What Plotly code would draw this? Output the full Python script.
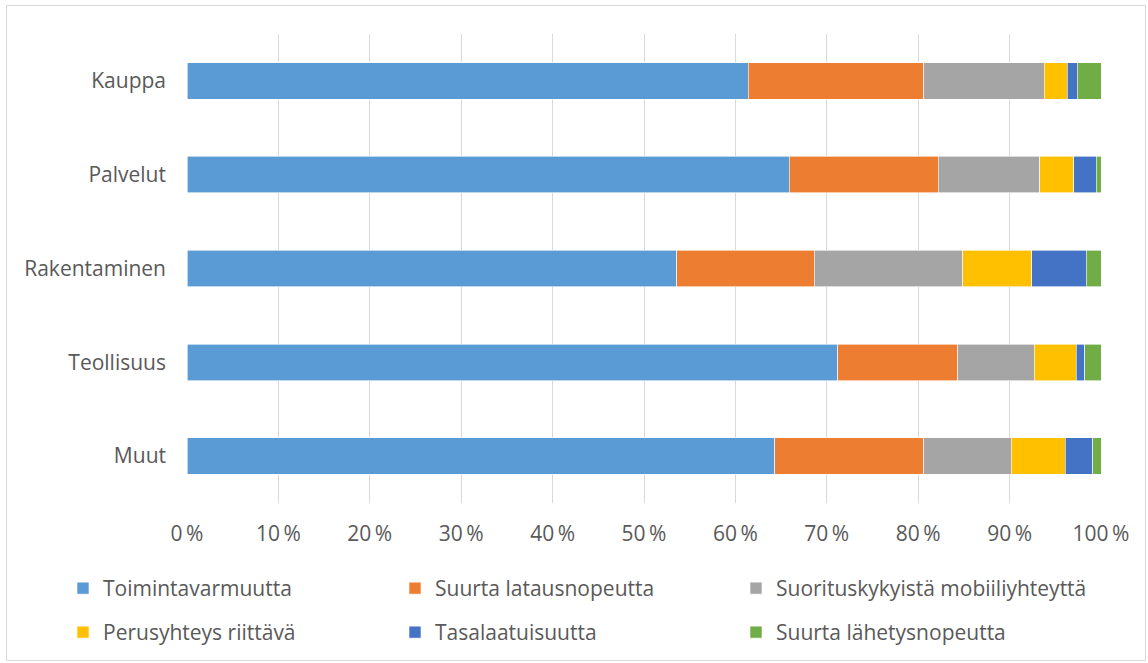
import plotly.graph_objects as go

# Sectors, top to bottom
categories = ["Kauppa", "Palvelut", "Rakentaminen", "Teollisuus", "Muut"]

# Share of answers per sector (%)
toimintavarmuutta = [61.4, 65.9, 53.6, 71.2, 64.3]
latausnopeutta = [19.2, 16.3, 15.0, 13.1, 16.3]
mobiiliyhteytta = [13.2, 11.1, 16.3, 8.4, 9.6]
perusyhteys = [2.5, 3.7, 7.5, 4.6, 5.9]
tasalaatuisuutta = [1.1, 2.5, 6.0, 0.9, 3.0]
lahetysnopeutta = [2.6, 0.5, 1.6, 1.8, 0.9]

series_names = [
    "Toimintavarmuutta",
    "Suurta latausnopeutta",
    "Suorituskykyistä mobiiliyhteyttä",
    "Perusyhteys riittävä",
    "Tasalaatuisuutta",
    "Suurta lähetysnopeutta",
]
series_values = [toimintavarmuutta, latausnopeutta, mobiiliyhteytta,
                 perusyhteys, tasalaatuisuutta, lahetysnopeutta]
colors = ["#5B9BD5", "#ED7D31", "#A5A5A5", "#FFC000", "#4472C4", "#70AD47"]

tick_vals = list(range(0, 101, 10))
tick_text = [f"{v}\u2009%" for v in tick_vals]

FONT = "'Open Sans', 'Noto Sans', sans-serif"
TEXT = "#595959"
FSIZE = 21

W, H = 1148, 663
L, R, T, B = 187, 47, 34, 160
pw, ph = W - L - R, H - T - B

# legend entry anchors (container pixels): three columns, two rows
legend_x = [63, 395, 736]
legend_y = [568, 612]

fig = go.Figure()
legend_layouts = {}
for i, (name, vals, col) in enumerate(zip(series_names, series_values, colors)):
    lg = "legend" if i == 0 else f"legend{i + 1}"
    fig.add_trace(go.Bar(
        y=categories, x=vals, name=name, orientation="h",
        marker=dict(color=col, line=dict(color="white", width=0.6)),
        legend=lg, showlegend=True, hoverinfo="x+name",
    ))
    legend_layouts[lg] = dict(
        orientation="h", xref="container", yref="container",
        x=legend_x[i % 3] / W, y=1 - legend_y[i // 3] / H,
        xanchor="left", yanchor="top", itemwidth=30,
        font=dict(family=FONT, size=FSIZE, color=TEXT),
        bgcolor="rgba(0,0,0,0)",
    )

def px_x(p):
    return (p - L) / pw

def px_y(p):
    return 1 - (p - T) / ph

fig.update_layout(
    width=W, height=H,
    margin=dict(l=L, r=R, t=T, b=B),
    barmode="stack", bargap=0.61,
    showlegend=True,
    paper_bgcolor="white", plot_bgcolor="white",
    font=dict(family=FONT, size=FSIZE, color=TEXT),
    xaxis=dict(
        range=[0, 100], tickvals=tick_vals, ticktext=tick_text,
        showgrid=True, gridcolor="#D9D9D9", gridwidth=1,
        zeroline=False, showline=False, ticks="",
        ticklabelstandoff=16, fixedrange=True,
    ),
    yaxis=dict(
        categoryorder="array", categoryarray=categories[::-1],
        showgrid=False, zeroline=False, showline=False, ticks="",
        ticklabelstandoff=20, fixedrange=True,
    ),
    shapes=[dict(
        type="rect", xref="paper", yref="paper",
        x0=px_x(6.5), x1=px_x(1145.5), y0=px_y(5.5), y1=px_y(660.5),
        line=dict(color="#D9D9D9", width=1), fillcolor="rgba(0,0,0,0)",
        layer="below",
    )],
    **legend_layouts,
)

fig.write_html("out.html")
